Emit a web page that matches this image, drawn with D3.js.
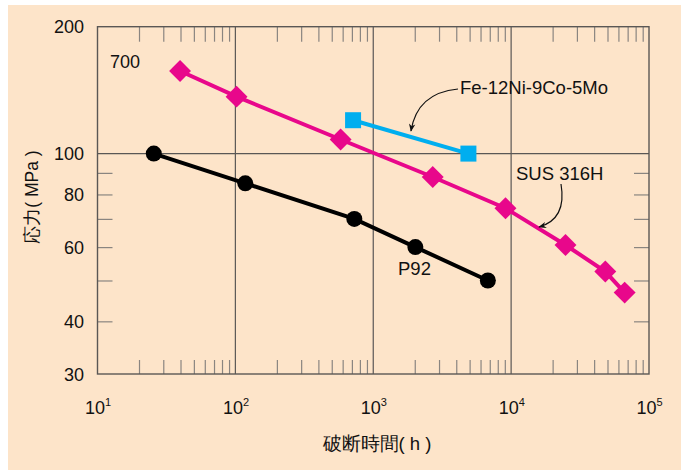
<!DOCTYPE html>
<html>
<head>
<meta charset="utf-8">
<script src="https://cdn.jsdelivr.net/npm/d3@7"></script>
<style>
  body { margin: 0; background: #fff; }
  svg { display: block; }
  text { font-family: "Liberation Sans", Arial, Helvetica, sans-serif; fill: #111; }
</style>
</head>
<body>
<svg id="chart" width="686" height="470"></svg>
<script>
// Creep rupture data at 700 °C: rupture time (h) vs stress (MPa)
const p92Hours   = [25.6, 118, 729, 2020, 6780];
const p92Stress  = [100, 85, 70, 60, 50];
const sus316Hours  = [39.7, 102, 580, 2700, 9100, 24800, 48200, 66600];
const sus316Stress = [157, 136.5, 108, 88, 74.2, 60.7, 52.5, 46.8];
const feNiCoMoHours  = [714, 4900];
const feNiCoMoStress = [120, 100];

const xDecades     = [10, 100, 1000, 10000, 100000];
const xExponents   = ["1", "2", "3", "4", "5"];
const xGridValues  = [100, 1000, 10000];
const yTickLabels  = [200, 100, 80, 60, 40, 30];
const yMinorValues = [40, 50, 60, 70, 80, 90];
const yGridValues  = [100];

const svg = d3.select("#chart");
const plotLeft = 97.5, plotRight = 649, plotTop = 26.7, plotBottom = 374;

const x = d3.scaleLog().domain([10, 1e5]).range([plotLeft, plotRight]);
const y = d3.scaleLog().domain([30, 200]).range([plotBottom, plotTop]);

// panel background
svg.append("rect").attr("x", 8).attr("y", 5).attr("width", 673).attr("height", 470)
  .attr("fill", "#fde4c9");

// minor ticks on x (2..9 of every decade)
const xMinor = [];
xDecades.slice(0, -1).forEach(d => { for (let k = 2; k <= 9; k++) xMinor.push(d * k); });

const tickColor = "#8a8580";
const frameColor = "#5a5755";

const axB = svg.append("g").attr("transform", `translate(0,${plotBottom})`)
  .call(d3.axisBottom(x).tickValues(xMinor).tickSize(-14).tickFormat(""));
const axT = svg.append("g").attr("transform", `translate(0,${plotTop})`)
  .call(d3.axisTop(x).tickValues(xMinor).tickSize(-15).tickFormat(""));
const axL = svg.append("g").attr("transform", `translate(${plotLeft},0)`)
  .call(d3.axisLeft(y).tickValues(yMinorValues).tickSize(-15).tickFormat(""));
const axR = svg.append("g").attr("transform", `translate(${plotRight},0)`)
  .call(d3.axisRight(y).tickValues(yMinorValues).tickSize(-15).tickFormat(""));
[axB, axT, axL, axR].forEach(g => {
  g.select(".domain").remove();
  g.selectAll(".tick line").attr("stroke", tickColor).attr("stroke-width", 1.2);
});

// grid lines
svg.append("g").selectAll("line").data(xGridValues).join("line")
  .attr("x1", d => x(d)).attr("x2", d => x(d)).attr("y1", plotTop).attr("y2", plotBottom)
  .attr("stroke", frameColor).attr("stroke-width", 1.2);
svg.append("g").selectAll("line").data(yGridValues).join("line")
  .attr("x1", plotLeft).attr("x2", plotRight).attr("y1", d => y(d)).attr("y2", d => y(d))
  .attr("stroke", frameColor).attr("stroke-width", 1.2);

// frame
svg.append("rect").attr("x", plotLeft).attr("y", plotTop)
  .attr("width", plotRight - plotLeft).attr("height", plotBottom - plotTop)
  .attr("fill", "none").attr("stroke", frameColor).attr("stroke-width", 1.4);

// y tick labels
svg.append("g").selectAll("text").data(yTickLabels).join("text")
  .attr("x", 84).attr("y", d => y(d) + 6.5)
  .attr("text-anchor", "end").attr("font-size", 18).text(d => d);

// x tick labels with superscript exponents
const xl = svg.append("g").selectAll("text").data(xDecades).join("text")
  .attr("x", d => x(d) - 12.5).attr("y", 414).attr("font-size", 18);
xl.append("tspan").text("10");
xl.append("tspan").attr("dy", -8).attr("font-size", 11).text((d, i) => xExponents[i]);

// axis titles
svg.append("text").attr("x", 377).attr("y", 450).attr("text-anchor", "middle")
  .attr("font-size", 18.5).text("破断時間( h )");
svg.append("text").attr("transform", "translate(38,197) rotate(-90)")
  .attr("text-anchor", "middle").attr("font-size", 17.5).text("応力( MPa )");

// series
const series = [
  { hours: feNiCoMoHours, stress: feNiCoMoStress, color: "#00aeef", shape: "square" },
  { hours: sus316Hours, stress: sus316Stress, color: "#e8078b", shape: "diamond" },
  { hours: p92Hours, stress: p92Stress, color: "#000000", shape: "circle" }
];
const line = d3.line().x(d => x(d[0])).y(d => y(d[1]));

series.forEach(s => {
  const pts = s.hours.map((h, i) => [h, s.stress[i]]);
  svg.append("path").datum(pts).attr("d", line)
    .attr("fill", "none").attr("stroke", s.color).attr("stroke-width", 4);
  const g = svg.append("g");
  if (s.shape === "circle") {
    g.selectAll("circle").data(pts).join("circle")
      .attr("cx", d => x(d[0])).attr("cy", d => y(d[1])).attr("r", 8).attr("fill", s.color);
  } else if (s.shape === "square") {
    g.selectAll("rect").data(pts).join("rect")
      .attr("x", d => x(d[0]) - 8).attr("y", d => y(d[1]) - 8)
      .attr("width", 16).attr("height", 16).attr("fill", s.color);
  } else {
    const sym = d3.symbol().type(d3.symbolSquare).size(240);
    g.selectAll("path").data(pts).join("path")
      .attr("d", sym)
      .attr("transform", d => `translate(${x(d[0])},${y(d[1])}) rotate(45)`)
      .attr("fill", s.color);
  }
});

// annotations
svg.append("defs").append("marker")
  .attr("id", "arrow").attr("viewBox", "0 0 10 10").attr("refX", 9).attr("refY", 5)
  .attr("markerWidth", 8).attr("markerHeight", 8).attr("markerUnits", "userSpaceOnUse")
  .attr("orient", "auto")
  .append("path").attr("d", "M0,1 L10,5 L0,9 L3,5 Z").attr("fill", "#111");

svg.append("path").attr("d", "M458,89 Q417,93 411,131")
  .attr("fill", "none").attr("stroke", "#111").attr("stroke-width", 1.2)
  .attr("marker-end", "url(#arrow)");
svg.append("path").attr("d", "M561,184 Q567,219 539,227")
  .attr("fill", "none").attr("stroke", "#111").attr("stroke-width", 1.2)
  .attr("marker-end", "url(#arrow)");

svg.append("text").attr("x", 460).attr("y", 94).attr("font-size", 18.5).text("Fe-12Ni-9Co-5Mo");
svg.append("text").attr("x", 516).attr("y", 180).attr("font-size", 18.5).text("SUS 316H");
svg.append("text").attr("x", 398).attr("y", 275).attr("font-size", 18.5).text("P92");
svg.append("text").attr("x", 110).attr("y", 68).attr("font-size", 18).text("700");
</script>
</body>
</html>
